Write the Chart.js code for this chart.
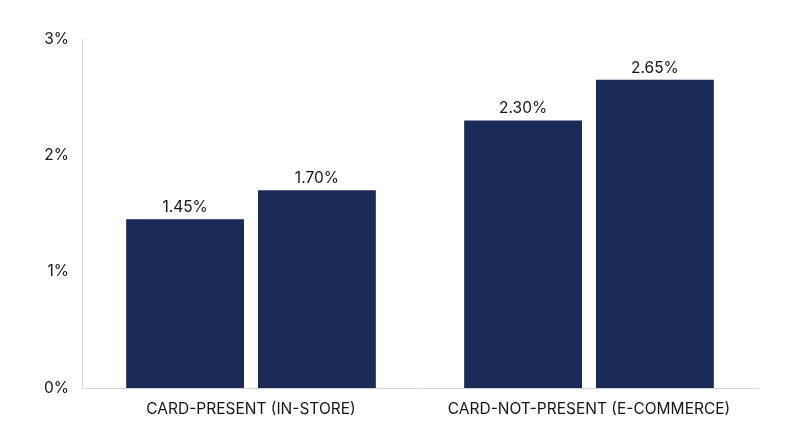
<!DOCTYPE html>
<html>
<head>
<meta charset="utf-8">
<script src="https://cdn.jsdelivr.net/npm/chart.js@4"></script>
<style>
  html, body { margin: 0; padding: 0; background: #fff; }
  #wrap { width: 800px; height: 447px; }
</style>
</head>
<body>
<div id="wrap"><canvas id="chart"></canvas></div>
<script>
const categories = ["CARD-PRESENT (IN-STORE)", "CARD-NOT-PRESENT (E-COMMERCE)"];
const lowValues = [1.45, 2.30];
const highValues = [1.70, 2.65];
const yTicks = [0, 1, 2, 3];

const barColor = "#1a2a56";
const textColor = "#161616";
const fontSize = 15.5;

// draws the "1.45%" style labels above each bar
const barLabels = {
  id: "barLabels",
  afterDatasetsDraw(chart) {
    const ctx = chart.ctx;
    ctx.save();
    ctx.font = fontSize + "px Inter";
    ctx.fillStyle = textColor;
    ctx.textAlign = "center";
    ctx.textBaseline = "bottom";
    chart.data.datasets.forEach((ds, i) => {
      chart.getDatasetMeta(i).data.forEach((bar, j) => {
        ctx.fillText(ds.data[j].toFixed(2) + "%", bar.x, bar.y - 4);
      });
    });
    ctx.restore();
  },
};

new Chart(document.getElementById("chart"), {
  type: "bar",
  data: {
    labels: categories,
    datasets: [
      {
        data: lowValues,
        backgroundColor: barColor,
        barPercentage: 0.894,
        categoryPercentage: 0.78,
      },
      {
        data: highValues,
        backgroundColor: barColor,
        barPercentage: 0.894,
        categoryPercentage: 0.78,
      },
    ],
  },
  options: {
    responsive: true,
    maintainAspectRatio: false,
    animation: false,
    layout: { padding: { top: 39, right: 42, bottom: 0, left: 0 } },
    plugins: {
      legend: { display: false },
      tooltip: { enabled: false },
    },
    scales: {
      x: {
        afterFit(scale) {
          scale.height = 59;
        },
        grid: { display: false, drawTicks: false },
        border: { color: "#d6d6d6", width: 1 },
        ticks: {
          color: textColor,
          font: { family: "Inter", size: fontSize },
          padding: 12,
        },
      },
      y: {
        min: 0,
        max: 3,
        afterBuildTicks(scale) {
          scale.ticks = yTicks.map((v) => ({ value: v }));
        },
        afterFit(scale) {
          scale.width = 82;
        },
        grid: { display: false, drawTicks: false },
        border: { color: "#d6d6d6", width: 1 },
        ticks: {
          color: textColor,
          font: { family: "Inter", size: fontSize },
          padding: 13,
          callback: (v) => v + "%",
        },
      },
    },
  },
  plugins: [barLabels],
});
</script>
</body>
</html>
